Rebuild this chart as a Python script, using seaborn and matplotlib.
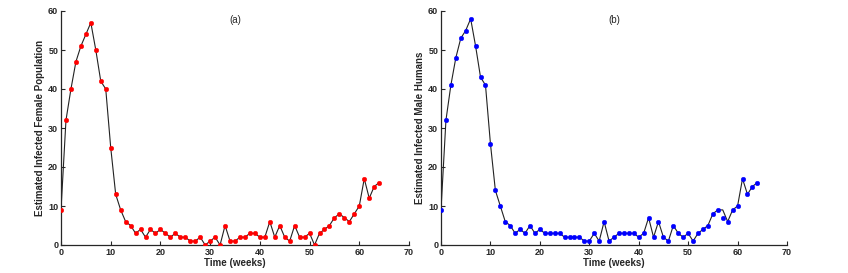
import numpy as np
import pandas as pd
import matplotlib
matplotlib.use('Agg')
import matplotlib.pyplot as plt
import seaborn as sns

weeks = list(range(65))

female = [9, 32, 40, 47, 51, 54, 57, 50, 42, 40,
          25, 13, 9, 6, 5, 3, 4, 2, 4, 3,
          4, 3, 2, 3, 2, 2, 1, 1, 2, 0,
          1, 2, 0, 5, 1, 1, 2, 2, 3, 3,
          2, 2, 6, 2, 5, 2, 1, 5, 2, 2,
          3, 0, 3, 4, 5, 7, 8, 7, 6, 8,
          10, 17, 12, 15, 16]

male = [9, 32, 41, 48, 53, 55, 58, 51, 43, 41,
        26, 14, 10, 6, 5, 3, 4, 3, 5, 3,
        4, 3, 3, 3, 3, 2, 2, 2, 2, 1,
        1, 3, 1, 6, 1, 2, 3, 3, 3, 3,
        2, 3, 7, 2, 6, 2, 1, 5, 3, 2,
        3, 1, 3, 4, 5, 8, 9, 7, 6, 9,
        10, 17, 13, 15, 16]

# the line in (b) passes 9 at week 57 while the marker sits at 7
male_line = list(male)
male_line[57] = 9

panels = [
    ('(a)', 'Estimated Infected Female Population', female, female, '#ff0000'),
    ('(b)', 'Estimated Infected Male Humans', male_line, male, '#0000ff'),
]

sns.set_style('ticks')
plt.rcParams['font.family'] = ['Liberation Sans', 'DejaVu Sans']
plt.rcParams['font.weight'] = 'bold'

fig = plt.figure(figsize=(8.48, 2.73), dpi=100)
W, H = 848, 273
boxes = [(61, 11, 409, 245), (441, 11, 787, 245)]

for (tag, ylab, yline, ymark, col), (x0, y0, x1, y1) in zip(panels, boxes):
    ax = fig.add_axes([x0 / W, 1 - y1 / H, (x1 - x0) / W, (y1 - y0) / H])
    df = pd.DataFrame({'week': weeks, 'line': yline, 'mark': ymark})
    sns.lineplot(data=df, x='week', y='line', color='#222222', linewidth=0.8, ax=ax)
    sns.scatterplot(data=df, x='week', y='mark', color=col, edgecolor=col,
                    s=11, linewidth=0.3, zorder=3, ax=ax)
    ax.set_xlim(0, 70)
    ax.set_ylim(0, 60)
    ax.set_xticks(range(0, 71, 10))
    ax.set_yticks(range(0, 61, 10))
    ax.tick_params(direction='in', length=3, width=0.8, labelsize=6.5,
                   colors='#262626', pad=2)
    for lbl in ax.get_xticklabels() + ax.get_yticklabels():
        lbl.set_fontweight('bold')
    sns.despine(ax=ax)
    for s in ('left', 'bottom'):
        ax.spines[s].set_linewidth(0.9)
        ax.spines[s].set_color('#262626')
    ax.set_xlabel('Time (weeks)', fontsize=7, fontweight='bold', color='#262626', labelpad=1)
    ax.set_ylabel(ylab, fontsize=7, fontweight='bold', color='#262626', labelpad=2)
    ax.text(0.5, 0.985, tag, transform=ax.transAxes, ha='center', va='top',
            fontsize=7, fontweight='normal', color='#262626')

fig.savefig('out.png', dpi=100)
